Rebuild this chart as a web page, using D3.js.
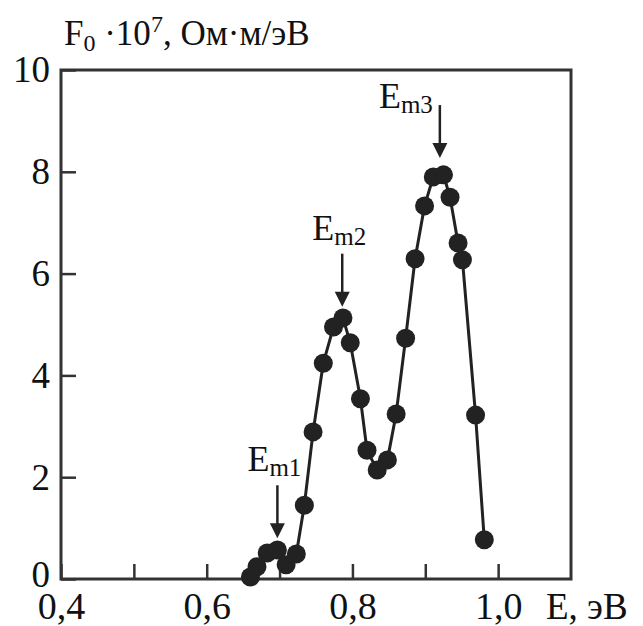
<!DOCTYPE html>
<html>
<head>
<meta charset="utf-8">
<script src="https://cdn.jsdelivr.net/npm/d3@7"></script>
<style>
body { margin: 0; background: #fff; }
</style>
</head>
<body>
<script>
// data
let energy = [0.660, 0.669, 0.683, 0.697, 0.709, 0.723, 0.734, 0.746, 0.760, 0.774, 0.787, 0.797, 0.811, 0.820,
	0.834, 0.848, 0.860, 0.873, 0.886, 0.899, 0.911, 0.925, 0.934, 0.945, 0.951, 0.969, 0.981];
let f0 = [0.04, 0.24, 0.51, 0.57, 0.28, 0.49, 1.45, 2.89, 4.24, 4.95, 5.13, 4.64, 3.54, 2.53,
	2.14, 2.34, 3.24, 4.73, 6.29, 7.33, 7.90, 7.94, 7.50, 6.60, 6.27, 3.22, 0.77];
let xTicks = [0.4, 0.5, 0.6, 0.7, 0.8, 0.9, 1.0];
let xLabels = [0.4, 0.6, 0.8, 1.0];
let yTicks = [0, 2, 4, 6, 8, 10];
let peakNames = ["m1", "m2", "m3"];
let peakE = [0.697, 0.786, 0.920];
let peakTip = [0.80, 5.35, 8.27];

let serif = "'Liberation Serif'";
let width = 643, height = 626;
let svg = d3.select("body").append("svg")
	.attr("width", width)
	.attr("height", height);

let x = d3.scaleLinear().domain([0.4, 1.1]).range([61, 571]);
let y = d3.scaleLinear().domain([0, 10]).range([579, 70]);

let ru = d3.formatLocale({decimal: ",", thousands: " ", grouping: [3], currency: ["", ""]});
let fmt = ru.format(".1f");

//frame
svg.append("rect")
	.attr("x", x(0.4))
	.attr("y", y(10))
	.attr("width", x(1.1) - x(0.4))
	.attr("height", y(0) - y(10))
	.attr("fill", "none")
	.attr("stroke", "#333")
	.attr("stroke-width", 3);

//x axis
let gx = svg.append("g")
	.attr("transform", "translate(0," + y(0) + ")")
	.call(d3.axisBottom(x)
		.tickValues(xTicks)
		.tickSize(-15)
		.tickPadding(13)
		.tickFormat(d => xLabels.some(v => Math.abs(v - d) < 1e-6) ? fmt(d) : ""));
gx.select(".domain").remove();
gx.selectAll("line").attr("stroke", "#333").attr("stroke-width", 2.5);
gx.selectAll("text").style("font-family", serif).attr("font-size", 38).attr("fill", "#111");

//y axis
let gy = svg.append("g")
	.attr("transform", "translate(" + x(0.4) + ",0)")
	.call(d3.axisLeft(y)
		.tickValues(yTicks)
		.tickSize(-15)
		.tickPadding(11)
		.tickFormat(d3.format("d")));
gy.select(".domain").remove();
gy.selectAll("line").attr("stroke", "#333").attr("stroke-width", 2.5);
gy.selectAll("text").style("font-family", serif).attr("font-size", 37).attr("fill", "#111");
gy.selectAll(".tick").filter(d => d == 0).select("text").attr("dy", "0.2em");

//axis titles
let title = svg.append("text")
	.attr("x", 64)
	.attr("y", 45)
	.attr("font-size", 35)
	.attr("fill", "#111")
	.style("font-family", serif);
title.append("tspan").text("F");
title.append("tspan").attr("font-size", 24).attr("dy", 6).text("0");
title.append("tspan").attr("dy", -6).text(" ·10");
title.append("tspan").attr("font-size", 24).attr("dy", -13).text("7");
title.append("tspan").attr("dy", 13).text(", Ом·м/эВ");

svg.append("text")
	.attr("x", 546)
	.attr("y", 619)
	.attr("font-size", 37)
	.attr("fill", "#111")
	.style("font-family", serif)
	.text("E, эВ");

//curve
let line = d3.line()
	.x(d => x(d[0]))
	.y(d => y(d[1]));
let pts = energy.map((e, i) => [e, f0[i]]);

svg.append("path")
	.datum(pts)
	.attr("d", line)
	.attr("fill", "none")
	.attr("stroke", "#222")
	.attr("stroke-width", 3);

svg.selectAll("circle.pt")
	.data(pts)
	.enter()
	.append("circle")
	.attr("class", "pt")
	.attr("cx", d => x(d[0]))
	.attr("cy", d => y(d[1]))
	.attr("r", 9.5)
	.attr("fill", "#222");

//peak arrows
let arrowLen = 53, headLen = 15, headW = 7.5;
for (var i = 0; i < peakE.length; i++) {
	let ax = x(peakE[i]);
	let tip = y(peakTip[i]);
	svg.append("line")
		.attr("x1", ax)
		.attr("y1", tip - arrowLen)
		.attr("x2", ax)
		.attr("y2", tip - headLen + 1)
		.attr("stroke", "#222")
		.attr("stroke-width", 2.5);
	svg.append("path")
		.attr("d", "M" + (ax - headW) + "," + (tip - headLen) + "L" + (ax + headW) + "," + (tip - headLen) + "L" + ax + "," + tip + "Z")
		.attr("fill", "#222");

	let lab = svg.append("text")
		.attr("font-size", 36)
		.attr("fill", "#111")
		.style("font-family", serif);
	if (i == 2) {
		lab.attr("x", ax - 7).attr("y", tip - 50).attr("text-anchor", "end");
	} else {
		lab.attr("x", ax - 3).attr("y", tip - arrowLen - 14).attr("text-anchor", "middle");
	}
	lab.append("tspan").text("E");
	lab.append("tspan").attr("font-size", 25).attr("dy", 5).text(peakNames[i]);
}
</script>
</body>
</html>
